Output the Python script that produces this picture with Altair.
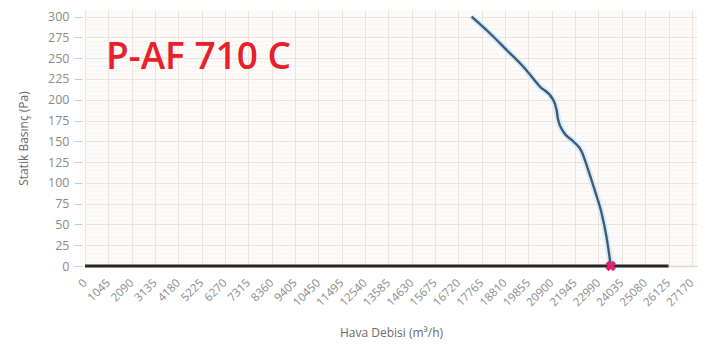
import altair as alt
import pandas as pd

# Fan curve
flow = [17306, 18125, 18872, 19615, 20362, 20958, 21110, 21182, 21406,
        21853, 22229, 22524, 22824, 23124, 23348, 23540]
pressure = [300, 280, 260, 240, 216, 200, 188, 176, 162,
            150, 138, 116, 91, 64, 35, 0]

# zero-pressure baseline series
base_flow = [0, 26125]
base_pressure = [0, 0]

# operating point marker
mark_flow = [23540]
mark_pressure = [0]

x_tick_values = [0, 1045, 2090, 3135, 4180, 5225, 6270, 7315, 8360, 9405,
                 10450, 11495, 12540, 13585, 14630, 15675, 16720, 17765,
                 18810, 19855, 20900, 21945, 22990, 24035, 25080, 26125, 27170]
y_tick_values = [0, 25, 50, 75, 100, 125, 150, 175, 200, 225, 250, 275, 300]
y_minor_values = [v for v in range(0, 305, 5) if v % 25 != 0]

title_text = "P-AF 710 C"
x_title = "Hava Debisi (m³/h)"
y_title = "Statik Basınç (Pa)"

curve_df = pd.DataFrame({"flow": flow, "p": pressure})
base_df = pd.DataFrame({"flow": base_flow, "p": base_pressure})
mark_df = pd.DataFrame({"flow": mark_flow, "p": mark_pressure})
minor_df = pd.DataFrame({"p": y_minor_values})

xscale = alt.Scale(domain=[0, 27400], nice=False, zero=False)
yscale = alt.Scale(domain=[0, 308], nice=False)

xaxis = alt.Axis(values=x_tick_values, format="d", labelOverlap=False,
                 labelAngle=-45, labelAlign="right",
                 labelBaseline="middle", labelFontSize=11.5, labelColor="#8a8a8a",
                 labelFont="Open Sans", labelPadding=15, tickSize=0,
                 domainColor="#d8d8d8", domainWidth=1.5,
                 gridColor="#ece2dc", gridWidth=1,
                 title=x_title, titleFont="Open Sans", titleFontSize=12,
                 titleFontWeight="normal", titleColor="#6a6a6a", titlePadding=19)
yaxis = alt.Axis(values=y_tick_values, labelFontSize=12.5, labelColor="#8a8a8a",
                 labelFont="Open Sans", tickSize=8, tickColor="#c8c8c8",
                 offset=3, labelPadding=5, domain=False,
                 gridColor="#ebe1db", gridWidth=1,
                 title=y_title, titleFont="Open Sans", titleFontSize=12,
                 titleFontWeight="normal", titleColor="#6a6a6a", titlePadding=17)

X = alt.X("flow:Q", scale=xscale, axis=xaxis)
Y = alt.Y("p:Q", scale=yscale, axis=yaxis)

minor = alt.Chart(minor_df).mark_rule(color="#f6f1ee", strokeWidth=0.7).encode(
    y=alt.Y("p:Q", scale=yscale, axis=yaxis))

base = alt.Chart(base_df).mark_line(color="#262626", strokeWidth=3).encode(x=X, y=Y)

glow = alt.Chart(curve_df).mark_line(color="#d4eaf7", strokeWidth=6,
                                      interpolate="monotone").encode(x=X, y=Y)
curve = alt.Chart(curve_df).mark_line(color="#3b5878", strokeWidth=2.3,
                                       interpolate="monotone").encode(x=X, y=Y)

marker = alt.Chart(mark_df).mark_point(shape="cross", filled=True, size=110,
                                        angle=45, color="#e0206a",
                                        opacity=1).encode(x=X, y=Y)

title = alt.Chart(pd.DataFrame({"t": [title_text]})).mark_text(
    font="Open Sans", fontSize=37, fontWeight=600, color="#e8202a",
    align="left", baseline="middle").encode(
    text="t:N", x=alt.value(21), y=alt.value(48))

chart = alt.layer(minor, base, glow, curve, marker, title).properties(
    width=612, height=256,
    autosize=alt.AutoSizeParams(type="none"),
    padding={"left": 77, "top": 2, "right": 2, "bottom": 74},
    background="white",
).configure_view(fill="#fdfbf9", stroke=None)

chart.save("out.html", embed_options={"renderer": "svg", "actions": False})
